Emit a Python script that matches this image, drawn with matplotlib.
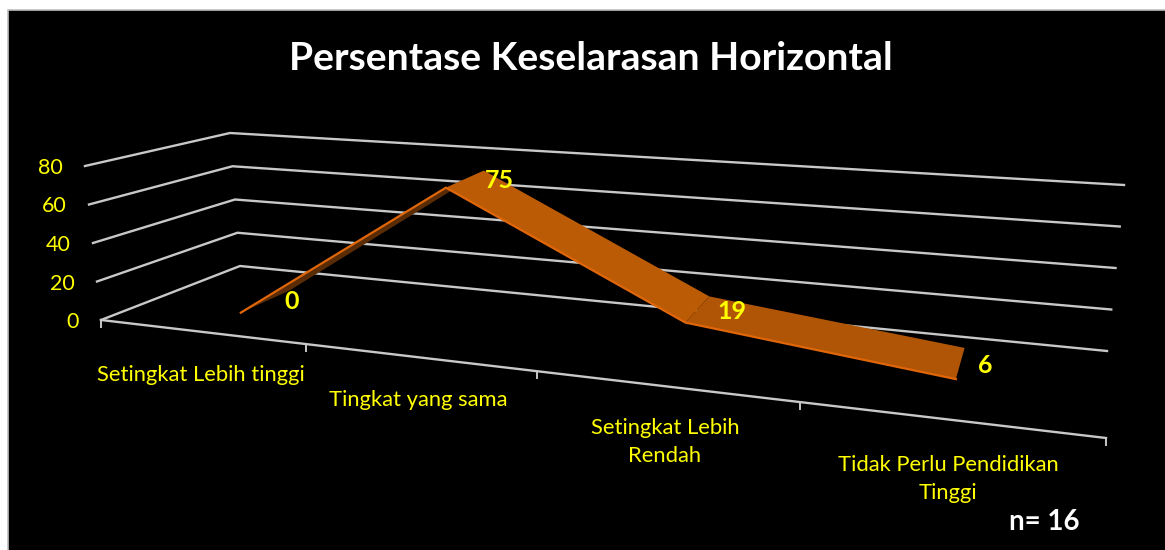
import numpy as np
import matplotlib.pyplot as plt
from matplotlib.patches import Rectangle, Polygon

plt.rcParams['font.family'] = ['Lato', 'DejaVu Sans']

# Data
categories = ['Setingkat Lebih tinggi', 'Tingkat yang sama',
              'Setingkat Lebih\nRendah', 'Tidak Perlu Pendidikan\nTinggi']
values = [0, 75, 19, 6]
y_ticks = [0, 20, 40, 60, 80]
title = 'Persentase Keselarasan Horizontal'
note = 'n= 16'

# 3D box as drawn on the page, in pixels
floor_front = np.array([[101, 320], [1106, 438]], dtype=float)
floor_back = np.array([[240, 266], [1107, 351]], dtype=float)
top_front = np.array([[85, 166], [1130, 248]], dtype=float)
top_back = np.array([[230, 133], [1124, 185]], dtype=float)
# category boundaries along the x axis (perspective squeezes them)
tick_pos = [0, 0.204, 0.434, 0.696, 1]
ribbon_depth = [0.33, 0.72]
y_max = 80


def project(cat, val, depth):
    # cat is in category units: 0 = left wall, 1 = first tick, ...
    u = np.interp(cat, range(len(tick_pos)), tick_pos)
    ends = np.array([1 - u, u])
    front = ends @ floor_front
    back = ends @ floor_back
    up_front = ends @ top_front - front
    up_back = ends @ top_back - back
    base = front + (back - front) * depth
    up = up_front + (up_back - up_front) * depth
    return base + up * val / y_max


fig = plt.figure(figsize=(11.65, 5.5), dpi=100, facecolor='white')
ax = fig.add_axes([0, 0, 1, 1])
ax.set_xlim(0, 1165)
ax.set_ylim(550, 0)
ax.axis('off')

# black chart area
ax.add_patch(Rectangle((8, 10), 1170, 550, facecolor='black', edgecolor='#bfbfbf', lw=1.2, zorder=0))

# grid lines on the side wall and back wall
n_cat = len(categories)
grid_col = '#c8c8c8'
for v in y_ticks:
    pts = np.array([project(0, v, 0), project(0, v, 1), project(n_cat, v, 1)])
    ax.plot(pts[:, 0], pts[:, 1], color=grid_col, lw=1.7, solid_joinstyle='miter', zorder=1)
    lx, ly = project(0, v, 0)
    ax.text(lx - 22, ly + 2, str(v), color='#ffff00', fontsize=15.5, ha='right', va='center')

# x axis and its ticks
a, b = project(0, 0, 0), project(n_cat, 0, 0)
ax.plot([a[0], b[0]], [a[1], b[1]], color=grid_col, lw=1.7, zorder=1)
for i in range(n_cat + 1):
    p = project(i, 0, 0)
    ax.plot([p[0], p[0]], [p[1], p[1] + 7], color=grid_col, lw=1.4, zorder=1)

# category labels
label_xy = [(201, 375), (418, 400), (665, 442), (948, 479)]
for name, (lx, ly) in zip(categories, label_xy):
    ax.text(lx, ly, name, color='#ffff00', fontsize=15.8, ha='center', va='center',
            linespacing=1.55)

# ribbon, one quad per segment
cat_x = np.arange(n_cat) + 0.48
front = [project(c, v, ribbon_depth[0]) for c, v in zip(cat_x, values)]
back = [project(c, v, ribbon_depth[1]) for c, v in zip(cat_x, values)]
seg_cols = ['#5a2c06', '#bc5b06', '#b05405']
for i, col in enumerate(seg_cols):
    ax.add_patch(Polygon([front[i], back[i], back[i + 1], front[i + 1]],
                         closed=True, facecolor=col, edgecolor='none', zorder=2))
f = np.array(front)
ax.plot(f[:, 0], f[:, 1], color='#e0660a', lw=1.6, solid_joinstyle='miter', zorder=3)

# data labels
label_off = [(2, 11), (16, 10), (23, 15), (21, 18)]
for pt, v, (ox, oy) in zip(back, values, label_off):
    ax.text(pt[0] + ox, pt[1] + oy, str(v), color='#ffff00', fontsize=18,
            fontweight='bold', ha='center', va='center', zorder=4)

ax.text(591, 59, title, color='white', fontsize=28.2, fontweight='bold', ha='center', va='center')
ax.text(1044, 522, note, color='white', fontsize=20, fontweight='bold', ha='center', va='center')

fig.savefig('out.png', dpi=100, facecolor=fig.get_facecolor())
